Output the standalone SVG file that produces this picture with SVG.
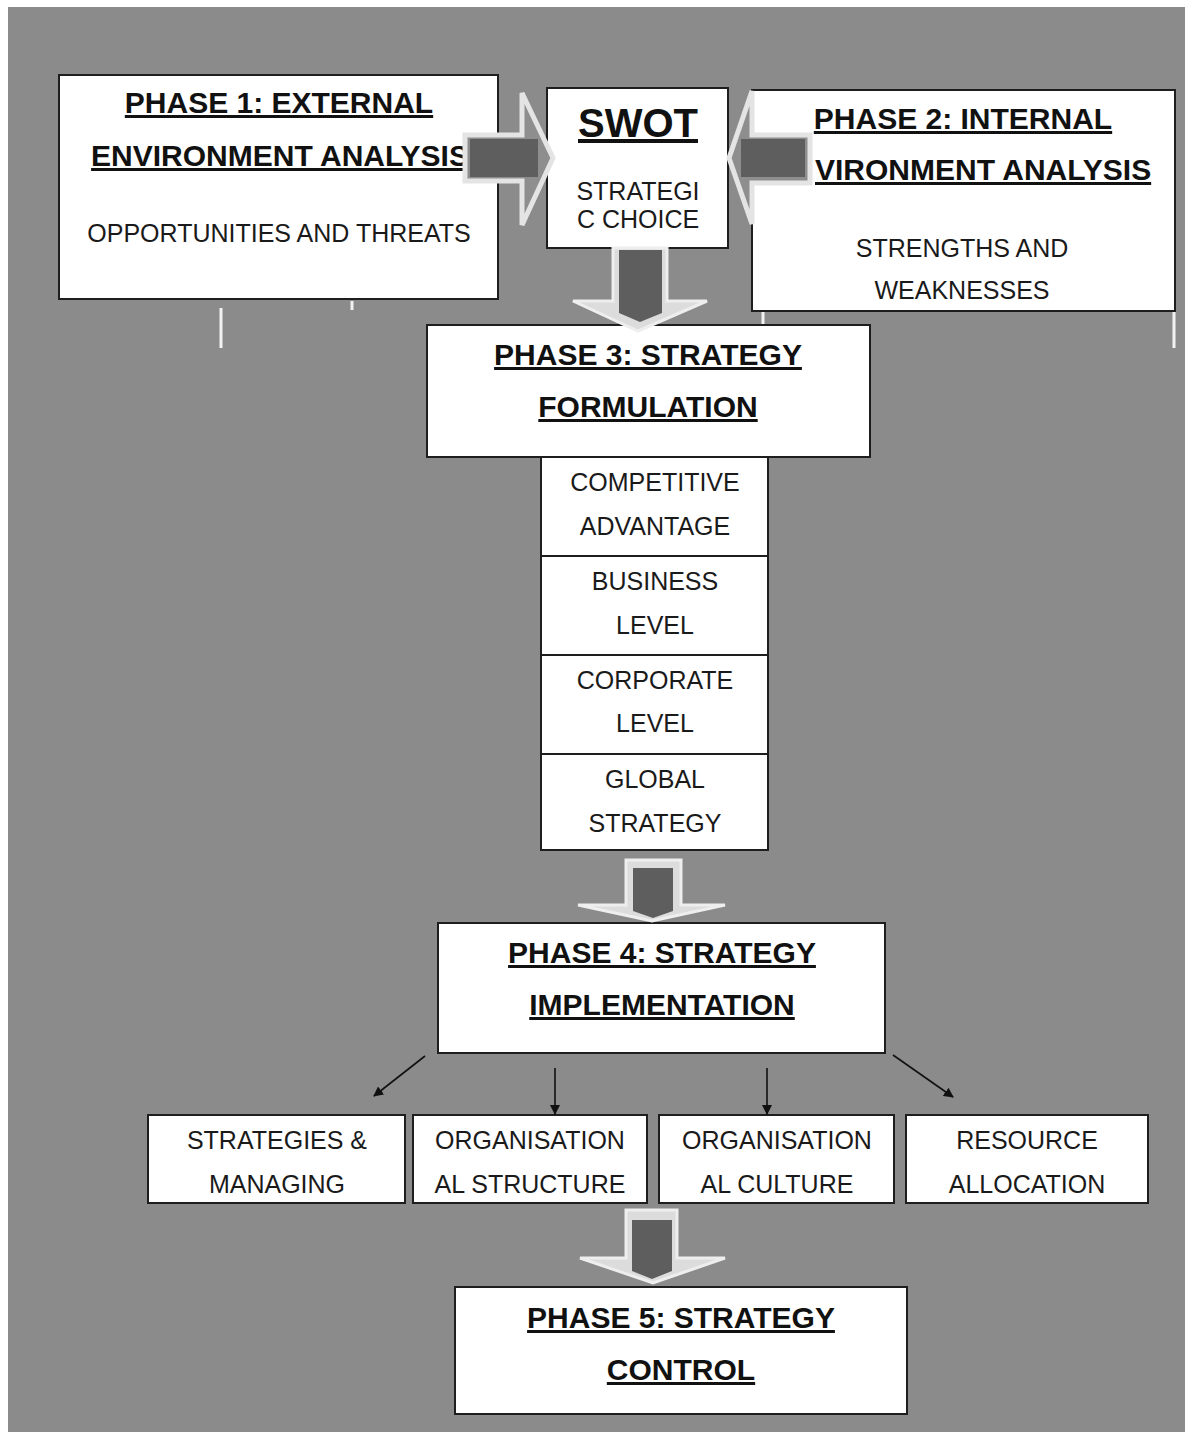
<svg xmlns="http://www.w3.org/2000/svg" width="1185" height="1435" viewBox="0 0 1185 1435">
<style>
.box{fill:#ffffff;stroke:#1e1e1e;stroke-width:2}
.h{font-family:"Liberation Sans",Arial,sans-serif;font-weight:bold;font-size:30px;fill:#111;text-anchor:middle;text-decoration:underline}
.t{font-family:"Liberation Sans",Arial,sans-serif;font-size:25px;fill:#1a1a1a;text-anchor:middle}
.ha{fill:#8e8e8e;stroke:#e4e4e4;stroke-width:5;stroke-linejoin:miter}
.va{fill:#dcdcdc;stroke:#eeeeee;stroke-width:3}
.dk{fill:#5e5e5e}
.ln{stroke:#111;stroke-width:1.6;fill:none;marker-end:url(#ah)}
.art{stroke:#f2f2f2;stroke-width:3}
</style>
<defs>
<marker id="ah" markerWidth="10" markerHeight="10" refX="9" refY="5" orient="auto" markerUnits="userSpaceOnUse">
<path d="M0,0 L10,5 L0,10 z" fill="#111"/>
</marker>
</defs>
<rect x="0" y="0" width="1185" height="1435" fill="#ffffff"/>
<rect x="8" y="7" width="1177" height="1425" fill="#8b8b8b"/>

<g id="artifacts">
<line class="art" x1="221" y1="308" x2="221" y2="348"/>
<line class="art" x1="352" y1="301" x2="352" y2="310"/>
<line class="art" x1="763" y1="311" x2="763" y2="326"/>
<line class="art" x1="1174" y1="311" x2="1174" y2="348"/>
</g>

<g id="phase1">
<rect class="box" x="59" y="75" width="439" height="224"/>
<text class="h" x="279" y="113">PHASE 1: EXTERNAL</text>
<text class="h" x="280" y="166">ENVIRONMENT ANALYSIS</text>
<text class="t" x="279" y="242">OPPORTUNITIES AND THREATS</text>
</g>

<g id="swot">
<rect class="box" x="547" y="88" width="181" height="160"/>
<text class="h" x="638" y="137" style="font-size:40px">SWOT</text>
<text class="t" x="638" y="200">STRATEGI</text>
<text class="t" x="638" y="228">C CHOICE</text>
</g>

<g id="phase2">
<rect class="box" x="752" y="90" width="423" height="221"/>
<text class="h" x="963" y="129">PHASE 2: INTERNAL</text>
<text class="h" x="815" y="180" style="text-anchor:start">VIRONMENT ANALYSIS</text>
<text class="t" x="962" y="257">STRENGTHS AND</text>
<text class="t" x="962" y="299">WEAKNESSES</text>
</g>

<g id="phase3">
<rect class="box" x="427" y="325" width="443" height="132"/>
<text class="h" x="648" y="365">PHASE 3: STRATEGY</text>
<text class="h" x="648" y="417">FORMULATION</text>
</g>

<g id="competitive">
<rect class="box" x="541" y="457" width="227" height="99"/>
<text class="t" x="655" y="491">COMPETITIVE</text>
<text class="t" x="655" y="535">ADVANTAGE</text>
</g>
<g id="business">
<rect class="box" x="541" y="556" width="227" height="99"/>
<text class="t" x="655" y="590">BUSINESS</text>
<text class="t" x="655" y="634">LEVEL</text>
</g>
<g id="corporate">
<rect class="box" x="541" y="655" width="227" height="99"/>
<text class="t" x="655" y="689">CORPORATE</text>
<text class="t" x="655" y="732">LEVEL</text>
</g>
<g id="global">
<rect class="box" x="541" y="754" width="227" height="96"/>
<text class="t" x="655" y="788">GLOBAL</text>
<text class="t" x="655" y="832">STRATEGY</text>
</g>

<g id="phase4">
<rect class="box" x="438" y="923" width="447" height="130"/>
<text class="h" x="662" y="963">PHASE 4: STRATEGY</text>
<text class="h" x="662" y="1015">IMPLEMENTATION</text>
</g>

<g id="strategies">
<rect class="box" x="148" y="1115" width="257" height="88"/>
<text class="t" x="277" y="1149">STRATEGIES &amp;</text>
<text class="t" x="277" y="1193">MANAGING</text>
</g>
<g id="structure">
<rect class="box" x="413" y="1115" width="234" height="88"/>
<text class="t" x="530" y="1149">ORGANISATION</text>
<text class="t" x="530" y="1193">AL STRUCTURE</text>
</g>
<g id="culture">
<rect class="box" x="659" y="1115" width="235" height="88"/>
<text class="t" x="777" y="1149">ORGANISATION</text>
<text class="t" x="777" y="1193">AL CULTURE</text>
</g>
<g id="resource">
<rect class="box" x="906" y="1115" width="242" height="88"/>
<text class="t" x="1027" y="1149">RESOURCE</text>
<text class="t" x="1027" y="1193">ALLOCATION</text>
</g>

<g id="phase5">
<rect class="box" x="455" y="1287" width="452" height="127"/>
<text class="h" x="681" y="1328">PHASE 5: STRATEGY</text>
<text class="h" x="681" y="1380">CONTROL</text>
</g>

<g id="connectors">
<polygon class="ha" points="465,135 522,135 522,93 553,158 522,225 522,181 465,181"/>
<rect class="dk" x="470" y="139" width="68" height="38"/>
<polygon class="ha" points="810,135 752,135 752,91 729,158 752,224 752,183 810,183"/>
<rect class="dk" x="741" y="139" width="64" height="38"/>
<polygon class="va" points="613,248 667,248 667,301 707,301 638,331 573,301 613,301"/>
<polygon class="dk" points="619,250 662,250 662,313 640,322 619,313"/>
<polygon class="va" points="626,860 681,860 681,905 725,905 652,921 578,905 626,905"/>
<polygon class="dk" points="633,868 673,868 673,911 653,918 633,911"/>
<polygon class="va" points="626,1210 677,1210 677,1258 725,1258 653,1283 580,1258 626,1258"/>
<polygon class="dk" points="632,1220 672,1220 672,1271 652,1279 632,1271"/>
<line class="ln" x1="425" y1="1056" x2="374" y2="1096"/>
<line class="ln" x1="555" y1="1068" x2="555" y2="1114"/>
<line class="ln" x1="767" y1="1068" x2="767" y2="1114"/>
<line class="ln" x1="893" y1="1055" x2="953" y2="1097"/>
</g>
</svg>
